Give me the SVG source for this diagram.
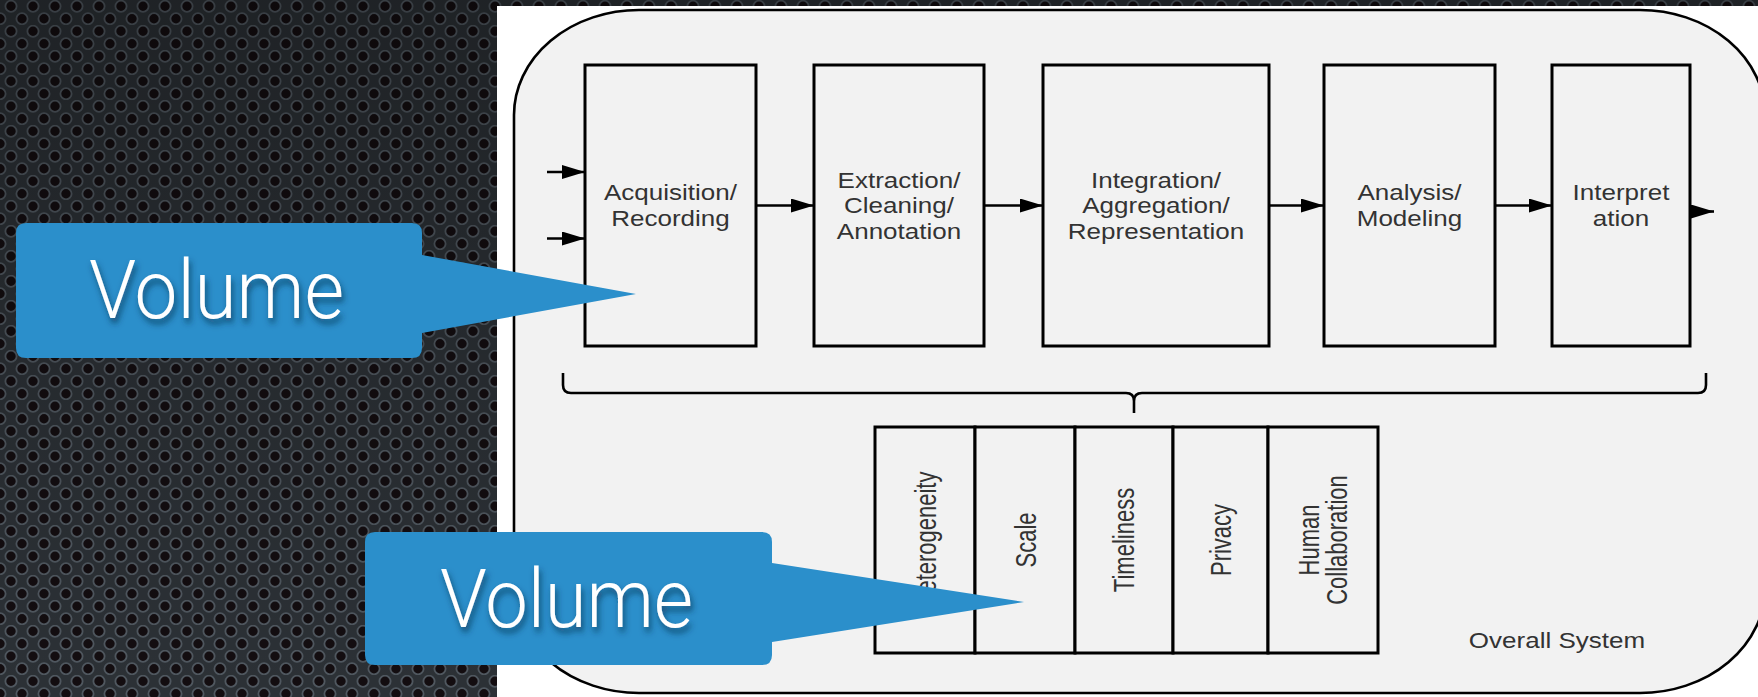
<svg xmlns="http://www.w3.org/2000/svg" width="1758" height="697" viewBox="0 0 1758 697">
<defs>
<pattern id="mesh" width="22" height="25" patternUnits="userSpaceOnUse">
<rect width="22" height="25" fill="#2c3136"/>
<circle cx="11" cy="6.25" r="5.6" fill="#130d10" stroke="#505860" stroke-width="1.8"/>
<circle cx="0" cy="18.75" r="5.6" fill="#130d10" stroke="#505860" stroke-width="1.8"/>
<circle cx="22" cy="18.75" r="5.6" fill="#130d10" stroke="#505860" stroke-width="1.8"/>
</pattern>
<linearGradient id="shade" x1="0" y1="0" x2="0" y2="1">
<stop offset="0" stop-color="#000" stop-opacity="0.3"/>
<stop offset="1" stop-color="#000" stop-opacity="0"/>
</linearGradient>
<marker id="arr" viewBox="0 0 23 14" refX="23" refY="7" markerWidth="23" markerHeight="14" markerUnits="userSpaceOnUse" orient="auto">
<path d="M0,0 L23,7 L0,14 z" fill="#000"/>
</marker>
<filter id="tshadow" x="-10%" y="-20%" width="130%" height="160%">
<feDropShadow dx="2" dy="5" stdDeviation="3" flood-color="#0b3350" flood-opacity="0.75"/>
</filter>
</defs>
<style>
.box{fill:#f2f2f2;stroke:#000;stroke-width:3}
.lbl{font-family:"Liberation Sans",Arial,Helvetica,sans-serif;font-size:21.5px;fill:#333;text-anchor:middle}
.vlbl{font-family:"Liberation Sans",Arial,Helvetica,sans-serif;font-size:22px;fill:#333;text-anchor:middle}
.conn{stroke:#000;stroke-width:2.6;fill:none}
.callout{fill:#2b8fcb}
.vol{font-family:Roboto,Lato,"Open Sans","Liberation Sans",sans-serif;font-weight:300;font-size:81px;fill:#fff}
</style>

<rect x="0" y="0" width="1758" height="697" fill="url(#mesh)"/>
<rect x="0" y="0" width="1758" height="697" fill="url(#shade)"/>

<rect x="497" y="6" width="1261" height="691" fill="#ffffff"/>
<g id="overall-system">
<rect x="514" y="10" width="1251" height="683" rx="125" ry="105" fill="#f2f2f2" stroke="#000" stroke-width="2.6"/>
<text class="lbl" transform="translate(1557,648) scale(1.21,1)">Overall System</text>
</g>

<g id="acquisition">
<rect class="box" x="585" y="65" width="171" height="281"/>
<text class="lbl" transform="translate(670.5,0) scale(1.21,1)"><tspan x="0" y="200">Acquisition/</tspan><tspan x="0" y="226">Recording</tspan></text>
</g>
<g id="extraction">
<rect class="box" x="814" y="65" width="170" height="281"/>
<text class="lbl" transform="translate(899,0) scale(1.21,1)"><tspan x="0" y="188">Extraction/</tspan><tspan x="0" y="213.5">Cleaning/</tspan><tspan x="0" y="239">Annotation</tspan></text>
</g>
<g id="integration">
<rect class="box" x="1043" y="65" width="226" height="281"/>
<text class="lbl" transform="translate(1156,0) scale(1.21,1)"><tspan x="0" y="188">Integration/</tspan><tspan x="0" y="213.5">Aggregation/</tspan><tspan x="0" y="239">Representation</tspan></text>
</g>
<g id="analysis">
<rect class="box" x="1324" y="65" width="171" height="281"/>
<text class="lbl" transform="translate(1409.5,0) scale(1.21,1)"><tspan x="0" y="200">Analysis/</tspan><tspan x="0" y="226">Modeling</tspan></text>
</g>
<g id="interpretation">
<rect class="box" x="1552" y="65" width="138" height="281"/>
<text class="lbl" transform="translate(1621,0) scale(1.21,1)"><tspan x="0" y="200">Interpret</tspan><tspan x="0" y="226">ation</tspan></text>
</g>

<g id="heterogeneity">
<rect class="box" x="875" y="427" width="100" height="226"/>
<text class="vlbl" transform="translate(935.5,540) scale(1.3,1) rotate(-90)">Heterogeneity</text>
</g>
<g id="scale">
<rect class="box" x="975" y="427" width="100" height="226"/>
<text class="vlbl" transform="translate(1035.5,540) scale(1.3,1) rotate(-90)">Scale</text>
</g>
<g id="timeliness">
<rect class="box" x="1075" y="427" width="98" height="226"/>
<text class="vlbl" transform="translate(1134,540) scale(1.3,1) rotate(-90)">Timeliness</text>
</g>
<g id="privacy">
<rect class="box" x="1173" y="427" width="95" height="226"/>
<text class="vlbl" transform="translate(1230.5,540) scale(1.3,1) rotate(-90)">Privacy</text>
</g>
<g id="human-collaboration">
<rect class="box" x="1268" y="427" width="110" height="226"/>
<text class="vlbl" transform="translate(1318.5,540) scale(1.3,1) rotate(-90)"><tspan x="0" y="0">Human</tspan><tspan x="0" y="22.3">Collaboration</tspan></text>
</g>

<g id="connectors">
<path class="conn" d="M547,172 L585,172" marker-end="url(#arr)"/>
<path class="conn" d="M547,238.5 L585,238.5" marker-end="url(#arr)"/>
<path class="conn" d="M756,205.5 L814,205.5" marker-end="url(#arr)"/>
<path class="conn" d="M984,205.5 L1043,205.5" marker-end="url(#arr)"/>
<path class="conn" d="M1269,205.5 L1324,205.5" marker-end="url(#arr)"/>
<path class="conn" d="M1495,205.5 L1552,205.5" marker-end="url(#arr)"/>
<path class="conn" d="M1691,211.5 L1714,211.5" marker-end="url(#arr)"/>
<path class="conn" stroke-width="3" d="M563,373 L563,385 Q563,393 571,393 L1126,393 Q1134,393 1134,401 L1134,413 M1134,401 Q1134,393 1142,393 L1698,393 Q1706,393 1706,385 L1706,373"/>
</g>

<g id="callout-1">
<path class="callout" d="M26,223 L412,223 Q422,223 422,233 L422,255 L636,294 L422,333 L422,348 Q422,358 412,358 L26,358 Q16,358 16,348 L16,233 Q16,223 26,223 Z"/>
<text class="vol" x="89" y="318" textLength="255" lengthAdjust="spacingAndGlyphs" filter="url(#tshadow)">Volume</text>
</g>
<g id="callout-2">
<path class="callout" d="M375,532 L762,532 Q772,532 772,542 L772,563 L1024,602 L772,642 L772,655 Q772,665 762,665 L375,665 Q365,665 365,655 L365,542 Q365,532 375,532 Z"/>
<text class="vol" x="440" y="627" textLength="253" lengthAdjust="spacingAndGlyphs" filter="url(#tshadow)">Volume</text>
</g>
</svg>
